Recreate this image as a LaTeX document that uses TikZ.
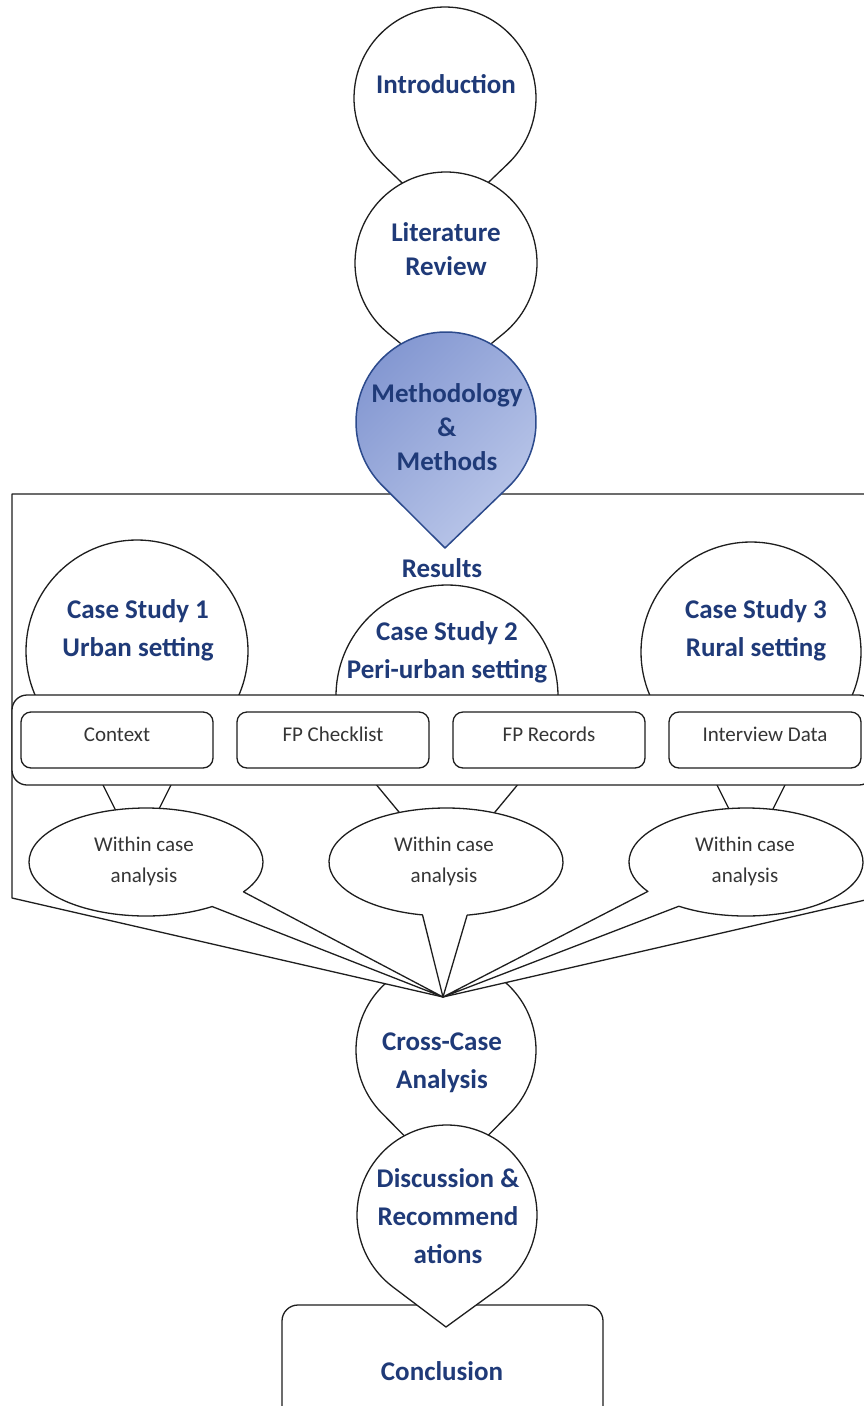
\documentclass[tikz,border=0pt]{standalone}
\usepackage{fontspec}
\setmainfont{Carlito}
\usetikzlibrary{calc}

\definecolor{navy}{HTML}{1F3A78}
\definecolor{ink}{HTML}{1E1E1E}
\definecolor{methA}{HTML}{8397D1}
\definecolor{methB}{HTML}{BCC8EA}
\definecolor{methEdge}{HTML}{2C4A8C}

% Pin: a circle joined to a tip by its two tangent lines.
% #1,#2 centre (y measured downwards), #3 radius, #4,#5 tip, #6 path style
\newcommand{\pinshape}[6]{%
  \pgfmathsetmacro\pinD{veclen(#4-#1,#5-#2)}%
  \pgfmathsetmacro\pinPhi{acos(#3/\pinD)}%
  \pgfmathsetmacro\pinDir{atan2(-(#5-#2),#4-#1)}%
  \pgfmathsetmacro\pinA{\pinDir+\pinPhi}%
  \pgfmathsetmacro\pinB{\pinDir-\pinPhi+360}%
  \path[#6] (#4,-#5) -- ([shift={(#1,-#2)}]\pinA:#3)
    arc[start angle=\pinA, end angle=\pinB, radius=#3] -- cycle;%
}

% Oval callout: ellipse with a wedge whose base spans 22 degrees.
% #1,#2 centre, #3,#4 radii, #5,#6 tip, #7 path style
\newcommand{\ovalcallout}[7]{%
  \pgfmathsetmacro\ovTh{atan2(-(#6-#2)/#4,(#5-#1)/#3)}%
  \pgfmathsetmacro\ovA{\ovTh+11}%
  \pgfmathsetmacro\ovB{\ovTh-11+360}%
  \pgfmathsetmacro\ovX{#1+#3*cos(\ovA)}%
  \pgfmathsetmacro\ovY{-#2+#4*sin(\ovA)}%
  \path[#7] (#5,-#6) -- (\ovX,\ovY)
    arc[start angle=\ovA, end angle=\ovB, x radius=#3, y radius=#4] -- cycle;%
}

\begin{document}
\begin{tikzpicture}[x=1pt,y=1pt,line join=round,
  outline/.style={draw=ink, line width=1.3pt, fill=white},
  methfill/.style={draw=methEdge, line width=1.5pt, top color=methA, bottom color=methB, shading angle=45},
  title/.style={text=navy, font=\fontsize{27}{38}\selectfont\bfseries, align=center, inner sep=0pt},
  titletight/.style={title, font=\fontsize{27}{34}\selectfont\bfseries},
  itembox/.style={draw=ink, line width=1.3pt, fill=white, rounded corners=10pt,
    minimum width=192pt, minimum height=56pt, text height=14pt, text depth=12pt,
    inner sep=0pt, text=ink!90, font=\fontsize{21}{26}\selectfont},
  ovaltext/.style={text=ink!90, font=\fontsize{21}{31}\selectfont, align=center, inner sep=0pt}]

\useasboundingbox (0,0) rectangle (864,-1406);
\clip (0,0) rectangle (864,-1406);
\fill[white] (0,0) rectangle (864,-1406);

% lower part of the flow
\draw[outline, rounded corners=16pt] (282,-1305) rectangle (603,-1450);
\pinshape{446}{1050}{90}{446}{1178}{outline}
\pinshape{447}{1215}{90}{446}{1327}{outline}

% results frame with its wedge towards the cross-case analysis
\draw[outline] (12,-494) -- (874,-494) -- (874,-898) -- (443,-997) -- (12,-898) -- cycle;

% upper part of the flow
\pinshape{445}{98}{91}{445}{224}{outline}
\pinshape{446}{263}{91}{446}{381}{outline}
\pinshape{446}{422}{90}{445}{548}{methfill}

% case studies
\draw[outline] (60.5,-700) -- (137,-853) -- (213.5,-700) -- cycle;
\draw[outline] (137,-651) circle[radius=111];
\pinshape{447}{696}{111}{447}{870}{outline}
\draw[outline] (674.5,-700) -- (751,-853) -- (827.5,-700) -- cycle;
\draw[outline] (751,-652) circle[radius=110];

% data sources
\draw[outline, rounded corners=15pt] (12,-695) rectangle (874,-785);
\node[itembox] (ctx) at (117,-740) {Context};
\node[itembox] (chk) at (333,-740) {FP Checklist};
\node[itembox] (rec) at (549,-740) {FP Records};
\node[itembox] (int) at (765,-740) {Interview Data};

% within case analyses
\ovalcallout{146}{862}{117}{54}{443}{997}{outline}
\ovalcallout{446}{862}{117}{54}{443}{997}{outline}
\ovalcallout{746}{862}{117}{54}{443}{997}{outline}
\node[ovaltext] (w1) at (144,-861) {Within case\\analysis};
\node[ovaltext] (w2) at (444,-861) {Within case\\analysis};
\node[ovaltext] (w3) at (745,-861) {Within case\\analysis};

% titles
\node[title] (intro) at (446,-84) {Introduction};
\node[titletight] (lit) at (446,-249) {Literature\\Review};
\node[titletight] (meth) at (447,-427) {Methodology\\\&\\Methods};
\node[title] (res) at (442,-568) {Results};
\node[title] (cs1) at (138,-630) {Case Study 1\\Urban setting};
\node[title] (cs2) at (447,-652) {Case Study 2\\Peri-urban setting};
\node[title] (cs3) at (756,-630) {Case Study 3\\Rural setting};
\node[title] (cross) at (442,-1063) {Cross-Case\\Analysis};
\node[title] (disc) at (448,-1216) {Discussion \&\\Recommend\\ations};
\node[title] (concl) at (442,-1371) {Conclusion};
\end{tikzpicture}
\end{document}
